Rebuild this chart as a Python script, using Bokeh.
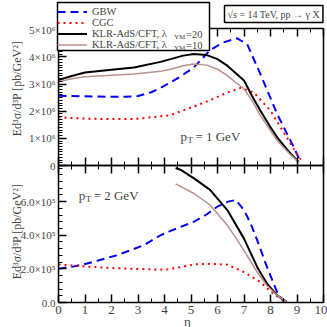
import math
from bokeh.plotting import figure
from bokeh.models import (Range1d, LinearAxis, CustomJSTickFormatter, Legend, LegendItem,
                          Label, FixedTicker, SingleIntervalTicker, BoxAnnotation)
from bokeh.embed import file_html
from bokeh.resources import INLINE

# ---------------- data ----------------
# top panel, pT = 1 GeV
eta_gbw1 = [0, 0.5, 1, 1.5, 2, 2.5, 3, 3.5, 3.85, 4.23, 4.6, 5.1, 5.72, 6.2, 6.74, 7.12, 7.62, 8.25, 8.88, 9.1]
gbw1 = [2.57e6, 2.56e6, 2.55e6, 2.54e6, 2.53e6, 2.53e6, 2.56e6, 2.7e6, 2.86e6, 3.06e6, 3.28e6, 3.61e6,
        4.25e6, 4.53e6, 4.69e6, 4.47e6, 3.37e6, 1.9e6, 0.67e6, 0.2e6]
eta_cgc1 = [0, 0.5, 1, 2, 3, 3.5, 4.2, 5.1, 5.7, 6.37, 6.87, 7.37, 8.0, 8.38, 8.88, 9.14]
cgc1 = [1.78e6, 1.75e6, 1.73e6, 1.71e6, 1.72e6, 1.78e6, 1.85e6, 2.17e6, 2.4e6, 2.69e6, 2.86e6, 2.69e6,
        2.02e6, 1.41e6, 0.61e6, 0.22e6]
eta_k20_1 = [0, 0.5, 1, 2, 2.85, 3.85, 4.23, 4.7, 5.1, 5.6, 6.0, 6.37, 7.0, 7.3, 7.62, 8.0, 8.25, 8.7, 9.07]
k20_1 = [3.15e6, 3.3e6, 3.43e6, 3.53e6, 3.61e6, 3.82e6, 3.92e6, 4.05e6, 4.11e6, 4.07e6, 3.92e6, 3.68e6,
         3.13e6, 2.57e6, 2.02e6, 1.41e6, 1.04e6, 0.5e6, 0.12e6]
eta_k10_1 = [0, 0.5, 1, 2, 2.85, 3.85, 4.23, 4.7, 5.1, 5.6, 6.0, 6.37, 7.0, 7.3, 7.62, 8.25, 8.7, 9.07]
k10_1 = [3.09e6, 3.2e6, 3.27e6, 3.33e6, 3.37e6, 3.47e6, 3.55e6, 3.68e6, 3.74e6, 3.7e6, 3.55e6, 3.31e6,
         2.82e6, 2.4e6, 1.84e6, 0.92e6, 0.45e6, 0.12e6]

# bottom panel, pT = 2 GeV
eta_gbw2 = [0, 0.5, 0.96, 1.5, 2.2, 2.7, 3.22, 3.85, 4.23, 5.1, 5.6, 5.99, 6.4, 6.69, 7.0, 7.25, 7.5, 7.87, 8.25, 8.5]
gbw2 = [2.01e5, 2.12e5, 2.27e5, 2.5e5, 2.81e5, 3.1e5, 3.41e5, 4.0e5, 4.26e5, 4.8e5, 5.25e5, 5.7e5,
        6.0e5, 6.1e5, 5.5e5, 4.7e5, 3.7e5, 2.1e5, 0.62e5, 0.05e5]
eta_cgc2 = [0, 0.5, 0.96, 2, 2.85, 3.5, 4.1, 4.6, 5.1, 5.72, 6.37, 7.0, 7.62, 8.0, 8.38, 8.6]
cgc2 = [2.27e5, 2.2e5, 2.15e5, 2.05e5, 2.0e5, 1.97e5, 1.97e5, 2.1e5, 2.27e5, 2.3e5, 2.25e5, 1.81e5,
        1.21e5, 0.66e5, 0.24e5, 0.05e5]
eta_k20_2 = [4.42, 4.6, 5.1, 5.72, 6.37, 7.0, 7.5, 7.87, 8.25, 8.6]
k20_2 = [8.0e5, 7.9e5, 7.4e5, 6.7e5, 5.5e5, 3.8e5, 2.1e5, 1.12e5, 0.42e5, 0.05e5]
eta_k10_2 = [4.42, 5.1, 5.72, 6.37, 7.0, 7.5, 7.87, 8.25, 8.6]
k10_2 = [7.06e5, 6.5e5, 5.8e5, 4.6e5, 3.1e5, 1.8e5, 1.0e5, 0.42e5, 0.05e5]

legend_labels = ["GBW", "CGC", "KLR-AdS/CFT, \u03bb", "KLR-AdS/CFT, \u03bb"]
lambda_values = ["=20", "=10"]

y1_ticks = [0, 1e6, 2e6, 3e6, 4e6, 5e6]
y1_top = 5.05e6
y2_ticks = [0, 2e5, 4e5, 6e5]
y2_top = 8.15e5
x_lo, x_hi = 0, 10

# ---------------- layout constants (pixels) ----------------
FONT = "Liberation Serif"
S = 327                   # canvas size; the frame covers the whole canvas
LEFT, RIGHT = 58, 323     # page x of eta = 0 and eta = 10
TOP1, MID, BOT2 = 28, 165, 302   # page y of the panel edges
LEG_L, LEG_R, LEG_T, LEG_B = 57, 209, 2, 50   # legend box (page pixels)
YLABEL = "Ed\u00b3\u03c3/d\u00b3P [pb/GeV\u00b2]"

BLUE, RED, BLACK, BROWN = "#0000ff", "#ff0000", "#000000", "#bc8f8f"
EMPTY = "return '';"

ppx = (x_hi - x_lo) / (RIGHT - LEFT)
x_range = Range1d(x_lo - LEFT * ppx, x_hi + (S - RIGHT) * ppx)
p1y = y1_top / (MID - TOP1)
y_range = Range1d(-(S - MID) * p1y, MID * p1y)
p2y = y2_top / (BOT2 - MID)
y_range_b = Range1d(-(S - BOT2) * p2y, BOT2 * p2y)

p = figure(width=S, height=S, x_range=x_range, y_range=y_range,
           output_backend="svg", toolbar_location=None,
           x_axis_location=None, y_axis_location=None,
           min_border_left=0, min_border_right=0, min_border_top=0, min_border_bottom=0)
p.extra_y_ranges = {"b": y_range_b}
p.grid.visible = False
p.outline_line_color = None
p.background_fill_color = "white"
p.border_fill_color = "white"


def style_axis(ax, labels=True):
    ax.major_tick_in = 8
    ax.major_tick_out = 0
    ax.minor_tick_in = 4
    ax.minor_tick_out = 0
    ax.axis_line_width = 1.5
    ax.major_tick_line_width = 1.5
    ax.minor_tick_line_width = 1
    ax.major_label_text_font = FONT
    if not labels:
        ax.formatter = CustomJSTickFormatter(code=EMPTY)
        ax.major_label_standoff = 0


def x_axis(side, loc, rng="default", labels=False):
    ax = LinearAxis(ticker=SingleIntervalTicker(interval=1, num_minor_ticks=2),
                    fixed_location=loc, bounds=(x_lo, x_hi), y_range_name=rng)
    style_axis(ax, labels)
    p.add_layout(ax, side)
    return ax


def y_axes(rng, ticks, minor, top, fmt):
    left = LinearAxis(ticker=FixedTicker(ticks=ticks, minor_ticks=minor), fixed_location=x_lo,
                      bounds=(0, top), y_range_name=rng, formatter=CustomJSTickFormatter(code=fmt))
    style_axis(left)
    left.major_label_text_font_size = "11px"
    left.major_label_standoff = 3
    p.add_layout(left, "left")
    right = LinearAxis(ticker=FixedTicker(ticks=[]), fixed_location=x_hi, bounds=(0, top),
                       y_range_name=rng)
    style_axis(right, labels=False)
    p.add_layout(right, "right")


# panel frames (axes)
y_axes("default", y1_ticks, [i * 1e5 for i in range(51)], y1_top,
       "return tick == 0 ? '0' : (tick/1e6).toFixed(0) + '\u00d710\u2076';")
y_axes("b", y2_ticks, [i * 4e4 for i in range(21)], y2_top,
       "return tick == 0 ? '0.0' : (tick/1e5).toFixed(1) + '\u00d710\u2075';")
x_axis("above", y1_top)
x_axis("below", 0)
x_axis("above", y2_top, "b")
bottom = x_axis("below", 0, "b", labels=True)
bottom.major_label_text_font_size = "13px"
bottom.major_label_standoff = 3

# ---------------- top panel curves ----------------
r1 = p.line(eta_gbw1, gbw1, line_color=BLUE, line_width=2, line_dash="8 5")
r2 = p.line(eta_cgc1, cgc1, line_color=RED, line_width=2, line_dash="2 4")
r3 = p.line(eta_k20_1, k20_1, line_color=BLACK, line_width=2)
r4 = p.line(eta_k10_1, k10_1, line_color=BROWN, line_width=1.5)

# ---------------- bottom panel curves ----------------
p.line(eta_gbw2, gbw2, line_color=BLUE, line_width=2, line_dash="8 5", y_range_name="b")
p.line(eta_cgc2, cgc2, line_color=RED, line_width=2, line_dash="2 4", y_range_name="b")
p.line(eta_k20_2, k20_2, line_color=BLACK, line_width=2, y_range_name="b")
p.line(eta_k10_2, k10_2, line_color=BROWN, line_width=1.5, y_range_name="b")

# ---------------- legend ----------------
# white framed box behind a transparent legend, so that the subscript labels stay visible
p.add_layout(BoxAnnotation(left=LEG_L, right=LEG_R, top=S - LEG_T, bottom=S - LEG_B,
                           left_units="screen", right_units="screen", top_units="screen",
                           bottom_units="screen", fill_color="white", fill_alpha=1,
                           line_color="black", line_width=1.5, line_alpha=1,
                           propagate_hover=False))

legend = Legend(items=[LegendItem(label=legend_labels[i], renderers=[r])
                       for i, r in enumerate([r1, r2, r3, r4])],
                location=(LEG_L, S - LEG_B))
legend.label_text_font = FONT
legend.label_text_font_size = "10.5px"
legend.label_height = 11
legend.glyph_height = 11
legend.glyph_width = 30
legend.label_width = 100
legend.label_standoff = 5
legend.spacing = 0
legend.padding = 2
legend.margin = 0
legend.border_line_color = None
legend.background_fill_alpha = 0
p.add_layout(legend, "center")

for i, val in enumerate(lambda_values):
    base = 33.5 + 11 * i          # page y of the label baseline
    p.add_layout(Label(x=173.5, y=S - base - 2.5, x_units="screen", y_units="screen", text="YM",
                       text_font=FONT, text_font_size="7px", text_baseline="alphabetic"))
    p.add_layout(Label(x=185.5, y=S - base, x_units="screen", y_units="screen", text=val,
                       text_font=FONT, text_font_size="10.5px", text_baseline="alphabetic"))

p.add_layout(Label(x=224, y=S - 13.5, x_units="screen", y_units="screen",
                   text="\u221as = 14 TeV, pp \u2192 \u03b3 X", text_font=FONT, text_font_size="10px",
                   text_baseline="middle", border_line_color="black", border_line_width=1.5,
                   background_fill_color="white", padding=3))

# ---------------- panel texts ----------------
for t, dx, dy, fs in [("p", 0, 0, "13px"), ("T", 7, -4, "9px"), ("= 1 GeV", 15, 0, "13px")]:
    p.add_layout(Label(x=4.6, y=1.07e6, x_offset=dx, y_offset=dy, text=t, text_font=FONT,
                       text_font_size=fs, text_baseline="alphabetic"))
for t, dx, dy, fs in [("p", 0, 0, "13px"), ("T", 7, -4, "9px"), ("= 2 GeV", 15, 0, "13px")]:
    p.add_layout(Label(x=0.76, y=6.37e5, y_range_name="b", x_offset=dx, y_offset=dy, text=t,
                       text_font=FONT, text_font_size=fs, text_baseline="alphabetic"))

for yc in (88, 231):
    p.add_layout(Label(x=16, y=S - yc, x_units="screen", y_units="screen", text=YLABEL,
                       angle=math.pi / 2, text_font=FONT, text_font_size="12px",
                       text_align="center", text_baseline="middle"))

p.add_layout(Label(x=187, y=S - 320.5, x_units="screen", y_units="screen", text="\u03b7",
                   text_font=FONT, text_font_size="13px", text_align="center",
                   text_baseline="alphabetic"))

open("out.html", "w").write(file_html(p, INLINE))
